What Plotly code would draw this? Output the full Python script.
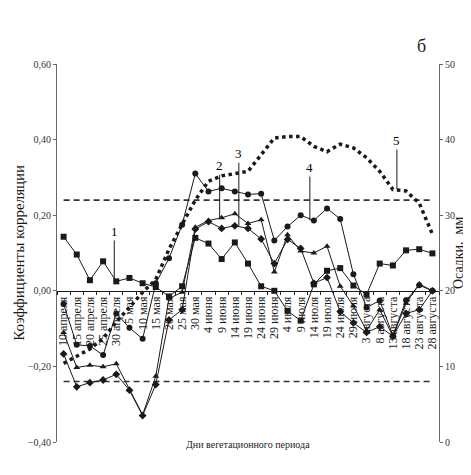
import plotly.graph_objects as go

# categories: days of the vegetation period
dates = ["10 апреля", "15 апреля", "20 апреля", "25 апреля", "30 апреля",
         "5 мая", "10 мая", "15 мая", "20 мая", "25 мая", "30 мая",
         "4 июня", "9 июня", "14 июня", "19 июня", "24 июня", "29 июня",
         "4 июля", "9 июля", "14 июля", "19 июля", "24 июля", "29 июля",
         "3 августа", "8 августа", "13 августа", "18 августа", "23 августа", "28 августа"]

# correlation coefficients (left axis)
s1_squares = [0.143, 0.096, 0.028, 0.078, 0.025, 0.034, 0.020, 0.010, -0.015, 0.012,
              0.140, 0.125, 0.084, 0.128, 0.072, 0.012, 0.000, -0.053, -0.079, 0.017,
              0.053, 0.060, 0.014, -0.010, 0.072, 0.067, 0.107, 0.110, 0.099]
s2_triangles = [-0.110, -0.203, -0.197, -0.201, -0.193, -0.262, -0.328, -0.226, -0.020, -0.004,
                0.168, 0.186, 0.193, 0.204, 0.178, 0.188, 0.050, 0.148, 0.105, 0.100,
                0.118, 0.012, -0.040, -0.105, -0.050, -0.120, -0.033, 0.018, 0.000]
s3_diamonds = [-0.167, -0.254, -0.243, -0.236, -0.221, -0.263, -0.330, -0.248, -0.077, -0.050,
               0.163, 0.183, 0.165, 0.172, 0.165, 0.137, 0.072, 0.136, 0.112, 0.020,
               0.035, -0.055, -0.085, -0.110, -0.095, -0.120, -0.060, -0.050, 0.000]
s4_circles = [-0.035, -0.143, -0.146, -0.170, -0.060, -0.098, -0.127, 0.020, 0.086, 0.175,
              0.310, 0.263, 0.271, 0.263, 0.255, 0.257, 0.133, 0.170, 0.200, 0.186,
              0.218, 0.190, 0.044, -0.044, -0.026, -0.118, -0.025, 0.015, 0.000]
# precipitation, mm (right axis)
s5_precip = [10.4, 11.3, 12.3, 13.7, 15.9, 17.8, 19.8, 21.5, 25.5, 28.8,
             32.0, 34.5, 35.2, 35.5, 35.8, 38.0, 40.2, 40.4, 40.4, 39.1,
             38.4, 39.4, 38.9, 37.6, 35.8, 33.4, 33.2, 31.6, 27.5]
# significance level
r_crit = 0.24

serif = "Liberation Serif"
ink = "#1a1a1a"

fig = go.Figure()

for val in [r_crit, -r_crit]:
    fig.add_trace(go.Scatter(x=dates, y=[val] * len(dates), mode="lines",
                             line=dict(color="#333333", width=1.6, dash="6px,4px"),
                             showlegend=False, hoverinfo="skip"))

series = [(s1_squares, "square"), (s2_triangles, "triangle-up"),
          (s3_diamonds, "diamond"), (s4_circles, "circle")]
for vals, sym in series:
    fig.add_trace(go.Scatter(x=dates, y=vals, mode="lines+markers",
                             line=dict(color=ink, width=1),
                             marker=dict(symbol=sym, size=6, color=ink),
                             showlegend=False))

fig.add_trace(go.Scatter(x=dates, y=s5_precip, yaxis="y2", mode="lines",
                         line=dict(color=ink, width=3.5, dash="dot"),
                         showlegend=False))

# numbered callouts
callouts = [("1", dates[4], s1_squares[4], "y", -50, -2),
            ("2", dates[12], s2_triangles[12], "y", -52, -2),
            ("3", dates[13], s3_diamonds[13], "y", -72, 4),
            ("4", dates[19], s4_circles[19], "y", -53, -4),
            ("5", dates[25], s5_precip[25], "y2", -49, 4)]
annotations = []
for txt, xv, yv, yr, ay, shift in callouts:
    annotations.append(dict(text=txt, x=xv, y=yv, xref="x", yref=yr,
                            showarrow=True, arrowhead=0, arrowwidth=1,
                            arrowcolor=ink, ax=0, ay=ay, xshift=shift,
                            font=dict(family=serif, size=13, color="black")))

annotations.append(dict(text="Дни вегетационного периода", x=0.5, y=0.012,
                        xref="paper", yref="paper", xanchor="center", yanchor="top",
                        showarrow=False, font=dict(family=serif, size=10, color=ink)))
annotations.append(dict(text="Коэффициенты корреляции", x=-0.1, y=0.5,
                        xref="paper", yref="paper", xanchor="center", yanchor="middle",
                        textangle=-90, showarrow=False,
                        font=dict(family=serif, size=15, color=ink)))
annotations.append(dict(text="Осадки,  мм", x=1.05, y=0.5,
                        xref="paper", yref="paper", xanchor="center", yanchor="middle",
                        textangle=-90, showarrow=False,
                        font=dict(family=serif, size=14, color=ink)))
annotations.append(dict(text="б", x=0.955, y=1.015, xref="paper", yref="paper",
                        xanchor="center", yanchor="bottom", showarrow=False,
                        font=dict(family=serif, size=18, color=ink)))

fig.update_layout(
    width=471, height=475,
    margin=dict(l=49, r=40, t=56, b=41),
    paper_bgcolor="white", plot_bgcolor="white",
    separators=", ",
    font=dict(family=serif, size=10, color=ink),
    xaxis=dict(type="category", range=[-0.5, len(dates) - 0.5],
               anchor="free", position=0.4,
               tickmode="array", tickvals=dates, ticktext=dates,
               showline=True, linecolor=ink, linewidth=1,
               ticks="outside", ticklen=3, tickcolor=ink, tickson="boundaries",
               tickangle=-90, tickfont=dict(family=serif, size=12, color=ink),
               showgrid=False, zeroline=False, automargin=False),
    yaxis=dict(range=[-0.4, 0.6], dtick=0.2, tickformat=".2f",
               showline=True, linecolor="#666666", linewidth=1,
               ticks="outside", ticklen=3, tickcolor="#666666",
               showgrid=False, zeroline=False,
               tickfont=dict(family=serif, size=10, color="#333333"),
               automargin=False),
    yaxis2=dict(range=[0, 50], dtick=10, overlaying="y", side="right",
                showline=True, linecolor="#666666", linewidth=1,
                ticks="outside", ticklen=3, tickcolor="#666666",
                showgrid=False, zeroline=False,
                tickfont=dict(family=serif, size=10, color="#333333"),
                automargin=False),
    annotations=annotations,
)

fig.write_html("out.html")
